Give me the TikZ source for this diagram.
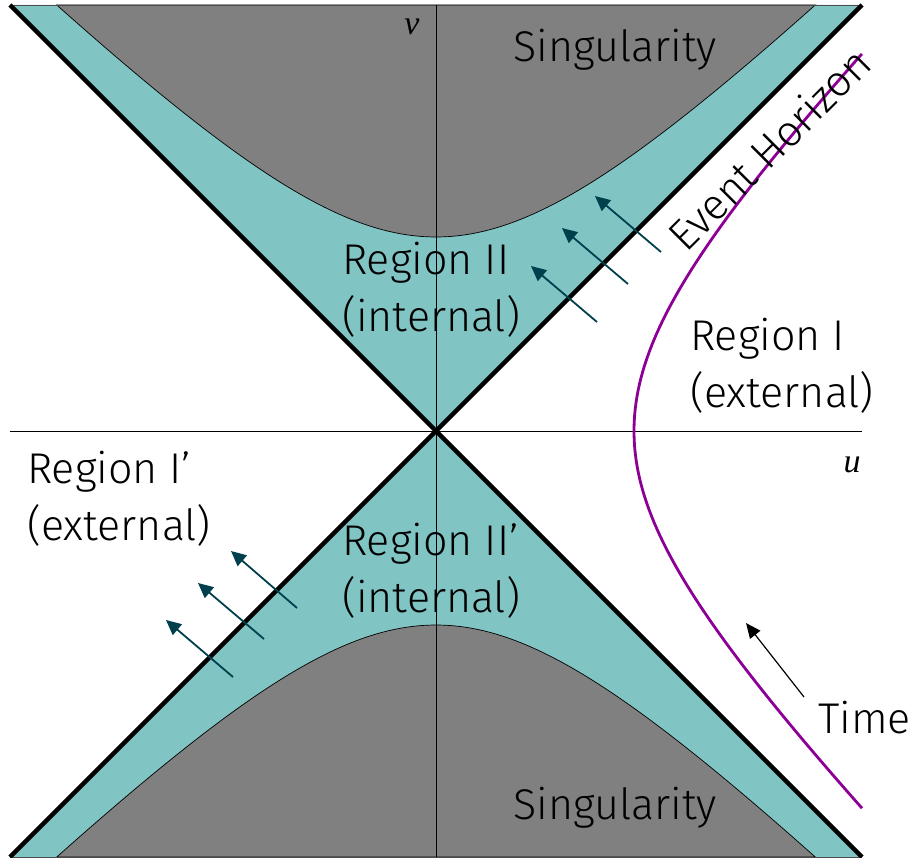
\documentclass[tikz,border=0pt]{standalone}
\usepackage{fontspec}
\setmainfont{Fira Sans Light}
\newfontfamily\axfont{Liberation Serif}
\usetikzlibrary{arrows.meta}
\definecolor{tealfill}{RGB}{128,196,196}
\definecolor{grayfill}{RGB}{128,128,128}
\definecolor{arrowc}{RGB}{0,64,77}
\definecolor{purp}{RGB}{140,0,150}
\tikzset{
  lbl/.style={inner sep=0pt, align=left, font=\fontsize{43}{57}\selectfont},
  axlbl/.style={inner sep=0pt, font=\axfont\itshape\fontsize{34}{34}\selectfont},
  flow/.style={draw=arrowc, line width=1.8pt, -{Triangle[length=15pt,width=14pt]}},
  timearrow/.style={draw=black, line width=1.2pt, -{Triangle[length=15pt,width=13pt]}},
  axis/.style={line width=1pt},
  horizon/.style={line width=4.5pt},
}
\begin{document}
\begin{tikzpicture}[x=100pt,y=100pt]
\useasboundingbox (-4.36,4.31) rectangle (4.84,-4.26);
\def\H{4.26}
% teal wedges
\fill[tealfill] (-\H,\H) -- (0,0) -- (\H,\H) -- cycle;
\fill[tealfill] (-\H,-\H) -- (0,0) -- (\H,-\H) -- cycle;
% singularity regions
\fill[grayfill, draw=black, line width=0.7pt] plot[domain=-3.793:3.793, samples=120] (\x,{sqrt(\x*\x+1.94*1.94)}) -- (3.793,\H) -- (-3.793,\H) -- cycle;
\fill[grayfill, draw=black, line width=0.7pt] plot[domain=-3.793:3.793, samples=120] (\x,{-sqrt(\x*\x+1.94*1.94)}) -- (3.793,-\H) -- (-3.793,-\H) -- cycle;
\draw[line width=0.8pt, draw=black!70] (-\H,\H) -- (\H,\H);
\draw[line width=0.8pt, draw=black!70] (-\H,-\H) -- (\H,-\H);
% axes
\coordinate (ul) at (-\H,0);
\coordinate (ur) at (\H,0);
\coordinate (vb) at (0,-\H);
\coordinate (vt) at (0,\H);
\draw[axis] (ul) -- (ur);
\draw[axis] (vb) -- (vt);
% horizons
\coordinate (tl) at (-\H,\H);
\coordinate (tr) at (\H,\H);
\coordinate (bl) at (-\H,-\H);
\coordinate (br) at (\H,-\H);
\draw[horizon] (tl) -- (br);
\draw[horizon] (bl) -- (tr);
% worldline
\draw[purp, line width=2.8pt] plot[domain=-3.772:3.772, samples=120] ({sqrt(\x*\x+1.98*1.98)},\x);
% arrows region II
\coordinate (a1s) at (1.61,1.09); \coordinate (a1e) at (0.95,1.65);
\coordinate (a2s) at (1.92,1.47); \coordinate (a2e) at (1.26,2.03);
\coordinate (a3s) at (2.25,1.79); \coordinate (a3e) at (1.59,2.35);
\draw[flow] (a1s) -- (a1e);
\draw[flow] (a2s) -- (a2e);
\draw[flow] (a3s) -- (a3e);
% arrows region I'
\coordinate (b1s) at (-2.03,-2.46); \coordinate (b1e) at (-2.70,-1.89);
\coordinate (b2s) at (-1.72,-2.08); \coordinate (b2e) at (-2.38,-1.52);
\coordinate (b3s) at (-1.39,-1.77); \coordinate (b3e) at (-2.05,-1.20);
\draw[flow] (b1s) -- (b1e);
\draw[flow] (b2s) -- (b2e);
\draw[flow] (b3s) -- (b3e);
% time arrow
\coordinate (ts) at (3.68,-2.66); \coordinate (te) at (3.10,-1.92);
\draw[timearrow] (ts) -- (te);
% labels
\node[lbl] (singtop) at (1.79,3.81) {Singularity};
\node[lbl] (singbot) at (1.79,-3.77) {Singularity};
\node[lbl, anchor=west] (r2) at (-0.94,1.41) {Region II\\(internal)};
\node[lbl, anchor=west] (r2p) at (-0.94,-1.40) {Region II’\\(internal)};
\node[lbl, anchor=west] (r1) at (2.54,0.65) {Region I\\(external)};
\node[lbl, anchor=west] (r1p) at (-4.09,-0.68) {Region I’\\(external)};
\node[lbl, anchor=west] (time) at (3.82,-2.87) {Time};
\node[lbl, rotate=45] (eh) at (3.33,2.82) {Event Horizon};
\node[axlbl] (vlab) at (-0.24,4.04) {v};
\node[axlbl] (ulab) at (4.16,-0.34) {u};
\end{tikzpicture}
\end{document}
